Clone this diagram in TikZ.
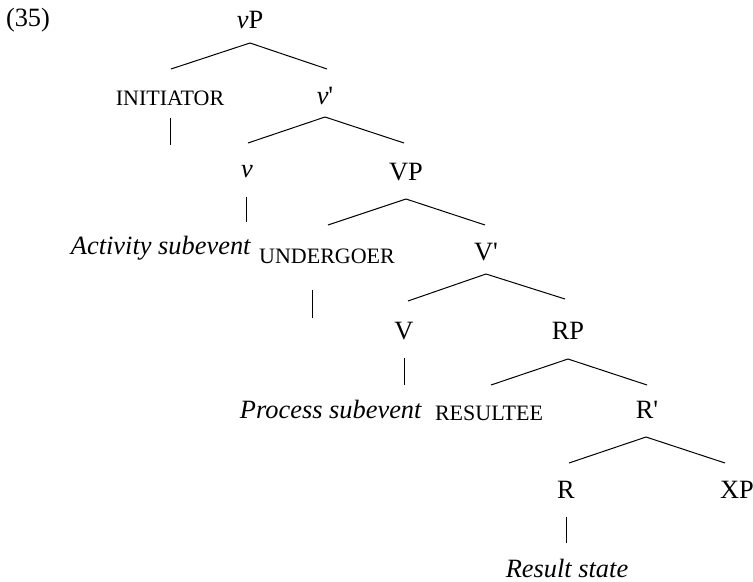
\documentclass[tikz,border=0pt]{standalone}
\usepackage{fontspec}
\setmainfont{Liberation Serif}
\usetikzlibrary{calc}
\newcommand{\fsc}[1]{{\fontsize{11}{12}\selectfont #1}}
\newcommand{\prm}{\textquotesingle}
\begin{document}
\begin{tikzpicture}[x=0.5pt,y=-0.5pt,
  lab/.style={inner sep=0pt,font=\fontsize{13.2}{15}\selectfont},
  br/.style={line width=0.5pt}]
\useasboundingbox (0,0) rectangle (753,582);
\node[lab] (num) at (28,20) {(35)};
\node[lab] (vP) at (250,20) {\textit{v}P};
\node[lab] (init) at (170,98) {\fsc{INITIATOR}};
\node[lab] (vbar) at (325,96) {\textit{v}\prm};
\node[lab] (v) at (247,172) {\textit{v}};
\node[lab] (VP) at (406,172) {VP};
\node[lab] (act) at (161,248) {\textit{Activity subevent}};
\node[lab] (und) at (327,256) {\fsc{UNDERGOER}};
\node[lab] (Vbar) at (486,252) {V\prm};
\node[lab] (V) at (404,331) {V};
\node[lab] (RP) at (568,331) {RP};
\node[lab] (proc) at (331,409) {\textit{Process subevent}};
\node[lab] (res) at (489,413) {\fsc{RESULTEE}};
\node[lab] (Rbar) at (647,410) {R\prm};
\node[lab] (R) at (566,490) {R};
\node[lab] (XP) at (737,490) {XP};
\node[lab] (rs) at (567,568) {\textit{Result state}};
% branches
\draw[br] ($(vP)+(0,23)$) -- ($(init)+(1,-29)$);
\draw[br] ($(vP)+(0,23)$) -- ($(vbar)+(2,-27)$);
\draw[br] ($(init)+(0,20)$) -- ($(init)+(0,47)$);
\draw[br] ($(vbar)+(0,21)$) -- ($(v)+(1,-29)$);
\draw[br] ($(vbar)+(0,21)$) -- ($(VP)+(-2,-29)$);
\draw[br] ($(v)+(-1,25)$) -- ($(v)+(-1,50)$);
\draw[br] ($(VP)+(0,27)$) -- ($(und)+(1,-31)$);
\draw[br] ($(VP)+(0,27)$) -- ($(Vbar)+(-1,-27)$);
\draw[br] ($(und)+(-15,34)$) -- ($(und)+(-15,62)$);
\draw[br] ($(Vbar)+(0,22)$) -- ($(V)+(4,-30)$);
\draw[br] ($(Vbar)+(0,22)$) -- ($(RP)+(-3,-32)$);
\draw[br] ($(V)+(0,27)$) -- ($(V)+(0,54)$);
\draw[br] ($(RP)+(0,28)$) -- ($(res)+(2,-28)$);
\draw[br] ($(RP)+(0,28)$) -- ($(Rbar)+(0,-25)$);
\draw[br] ($(Rbar)+(-1,27)$) -- ($(R)+(3,-27)$);
\draw[br] ($(Rbar)+(-1,27)$) -- ($(XP)+(-12,-27)$);
\draw[br] ($(R)+(0,27)$) -- ($(R)+(0,53)$);
\end{tikzpicture}
\end{document}
